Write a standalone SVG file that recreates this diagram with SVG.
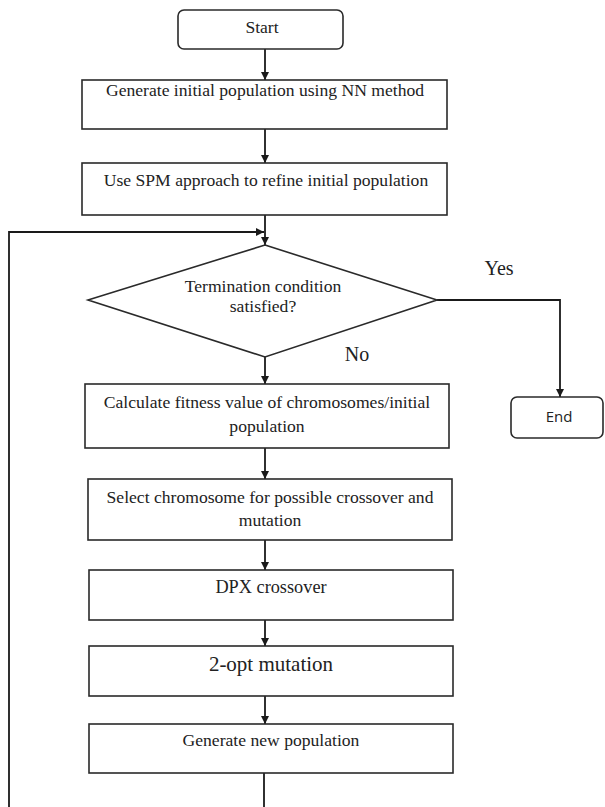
<svg xmlns="http://www.w3.org/2000/svg" width="605" height="807" viewBox="0 0 605 807">
<style>
.box{fill:#fff;stroke:#2a2a2a;stroke-width:1.6}
.t{font-family:'Liberation Serif','DejaVu Serif',serif;font-size:17.6px;fill:#222;text-anchor:middle}
.s{font-family:'Open Sans','Liberation Sans',sans-serif;font-size:15px;fill:#222;text-anchor:middle}
.ln{fill:none;stroke:#1a1a1a;stroke-width:1.8}
</style>
<defs>
<marker id="ah" viewBox="0 0 10 10" refX="10" refY="5" markerWidth="8" markerHeight="8" orient="auto" markerUnits="userSpaceOnUse">
<path d="M0,0 L10,5 L0,10 z" fill="#1a1a1a"/>
</marker>
</defs>
<rect width="605" height="807" fill="#fff"/>
<g id="connectors">
<line class="ln" x1="265" y1="49" x2="265" y2="80" marker-end="url(#ah)"/>
<line class="ln" x1="265" y1="129" x2="265" y2="163" marker-end="url(#ah)"/>
<line class="ln" x1="265" y1="215" x2="265" y2="245" marker-end="url(#ah)"/>
<polyline class="ln" points="264,807 264,773"/>
<polyline class="ln" points="9,807 9,232 264,232" marker-end="url(#ah)"/>
<line class="ln" x1="265" y1="357" x2="265" y2="384" marker-end="url(#ah)"/>
<line class="ln" x1="265" y1="448" x2="265" y2="479" marker-end="url(#ah)"/>
<line class="ln" x1="265" y1="540" x2="265" y2="570" marker-end="url(#ah)"/>
<line class="ln" x1="265" y1="620" x2="265" y2="646" marker-end="url(#ah)"/>
<line class="ln" x1="265" y1="696" x2="265" y2="724" marker-end="url(#ah)"/>
<polyline class="ln" points="437,300 560,300 560,397" marker-end="url(#ah)"/>
<text class="t" x="499" y="275" style="font-size:20px">Yes</text>
<text class="t" x="357" y="361" style="font-size:20px">No</text>
</g>
<g id="start">
<rect class="box" x="178" y="10" width="165" height="39" rx="6"/>
<text class="t" x="262" y="33">Start</text>
</g>
<g id="gen-initial">
<rect class="box" x="82" y="80" width="365" height="49"/>
<text class="t" x="265" y="96">Generate initial population using NN method</text>
</g>
<g id="spm">
<rect class="box" x="82" y="163" width="365" height="52"/>
<text class="t" x="266" y="186">Use SPM approach to refine initial population</text>
</g>
<g id="termination">
<polygon class="box" points="265,245 437,300 265,357 88,300"/>
<text class="t" x="263" y="292">Termination condition</text>
<text class="t" x="263" y="312">satisfied?</text>
</g>
<g id="end">
<rect class="box" x="511" y="397" width="92" height="41" rx="6"/>
<text class="s" x="559" y="422">End</text>
</g>
<g id="fitness">
<rect class="box" x="85" y="384" width="364" height="64"/>
<text class="t" x="267" y="408">Calculate fitness value of chromosomes/initial</text>
<text class="t" x="267" y="432">population</text>
</g>
<g id="select">
<rect class="box" x="88" y="479" width="364" height="61"/>
<text class="t" x="270" y="503">Select chromosome for possible crossover and</text>
<text class="t" x="270" y="526">mutation</text>
</g>
<g id="dpx">
<rect class="box" x="89" y="570" width="364" height="50"/>
<text class="t" x="271" y="593" style="font-size:18.3px">DPX crossover</text>
</g>
<g id="twoopt">
<rect class="box" x="89" y="646" width="364" height="50"/>
<text class="t" x="271" y="671" style="font-size:21px">2-opt mutation</text>
</g>
<g id="newpop">
<rect class="box" x="89" y="724" width="364" height="49"/>
<text class="t" x="271" y="746">Generate new population</text>
</g>
</svg>
